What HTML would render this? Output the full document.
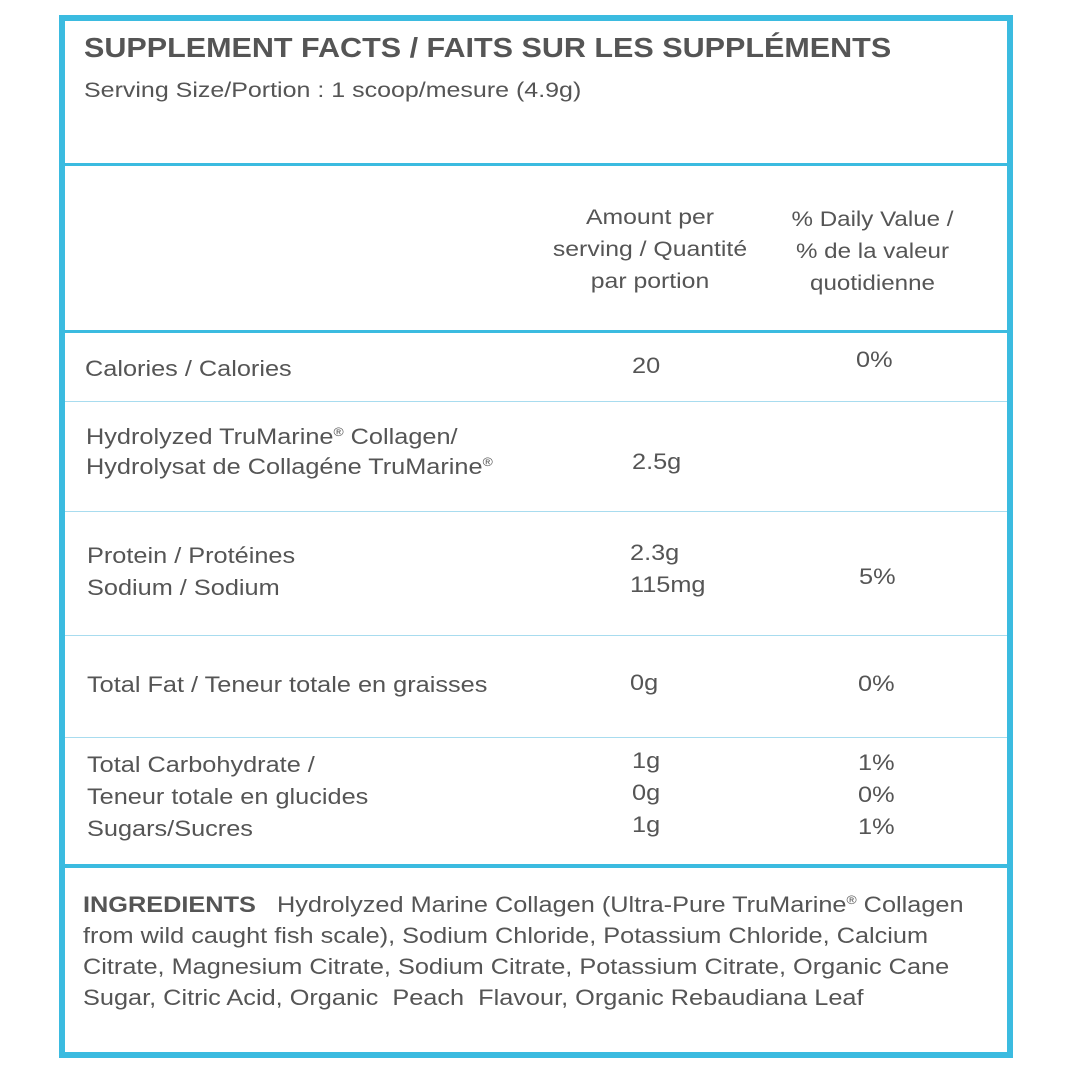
<!DOCTYPE html>
<html><head><style>
body{margin:0;width:1080px;height:1080px;background:#fff;position:relative;overflow:hidden;font-family:"Liberation Sans",sans-serif;color:#555;}
.box{position:absolute;left:59px;top:15px;width:942px;height:1031px;border:6px solid #3bbbe0;}
.h{position:absolute;left:65px;width:942px;background:#3bbbe0;}
.t{position:absolute;white-space:nowrap;font-size:22px;line-height:32px;transform:scaleX(1.15);transform-origin:left top;}
.c{text-align:center;transform-origin:center top;}
sup{font-size:12px;line-height:0;vertical-align:8px;}
</style></head><body>
<div class="box"></div>
<div class="h" style="top:163px;height:3px"></div>
<div class="h" style="top:330px;height:3px"></div>
<div class="h" style="top:401px;height:1px;background:#a8dcef"></div>
<div class="h" style="top:511px;height:1px;background:#a8dcef"></div>
<div class="h" style="top:635px;height:1px;background:#a8dcef"></div>
<div class="h" style="top:737px;height:1px;background:#a8dcef"></div>
<div class="h" style="top:864px;height:4px"></div>

<div class="t" style="left:84px;top:32px;font-size:28px;font-weight:bold;transform:scaleX(1.09)">SUPPLEMENT FACTS / FAITS SUR LES SUPPLÉMENTS</div>
<div class="t" style="left:84px;top:75px;font-size:21px;transform:scaleX(1.19)">Serving Size/Portion : 1 scoop/mesure (4.9g)</div>

<div class="t c" style="left:540px;width:220px;top:202px;font-size:21px;transform:scaleX(1.18)">Amount per<br>serving / Quantité<br>par portion</div>
<div class="t c" style="left:760px;width:225px;top:204px;font-size:21px">% Daily Value /<br>% de la valeur<br>quotidienne</div>

<div class="t" style="left:85px;top:353px">Calories / Calories</div>
<div class="t" style="left:632px;top:350px">20</div>
<div class="t" style="left:856px;top:344px">0%</div>

<div class="t" style="left:86px;top:422px;line-height:30px">Hydrolyzed TruMarine<sup>®</sup> Collagen/<br>Hydrolysat de Collagéne TruMarine<sup>®</sup></div>
<div class="t" style="left:632px;top:446px">2.5g</div>

<div class="t" style="left:87px;top:540px">Protein / Protéines<br>Sodium / Sodium</div>
<div class="t" style="left:630px;top:537px">2.3g<br>115mg</div>
<div class="t" style="left:859px;top:561px">5%</div>

<div class="t" style="left:87px;top:669px">Total Fat / Teneur totale en graisses</div>
<div class="t" style="left:630px;top:667px">0g</div>
<div class="t" style="left:858px;top:668px">0%</div>

<div class="t" style="left:87px;top:749px">Total Carbohydrate /<br>Teneur totale en glucides<br>Sugars/Sucres</div>
<div class="t" style="left:632px;top:745px">1g<br>0g<br>1g</div>
<div class="t" style="left:858px;top:747px">1%<br>0%<br>1%</div>

<div class="t" style="left:83px;top:889px;line-height:31px;font-size:22px"><b>INGREDIENTS</b>&nbsp;&nbsp; Hydrolyzed Marine Collagen (Ultra-Pure TruMarine<sup>®</sup> Collagen<br>from wild caught fish scale), Sodium Chloride, Potassium Chloride, Calcium<br>Citrate, Magnesium Citrate, Sodium Citrate, Potassium Citrate, Organic Cane<br>Sugar, Citric Acid, Organic&nbsp; Peach&nbsp; Flavour, Organic Rebaudiana Leaf</div>
</body></html>
